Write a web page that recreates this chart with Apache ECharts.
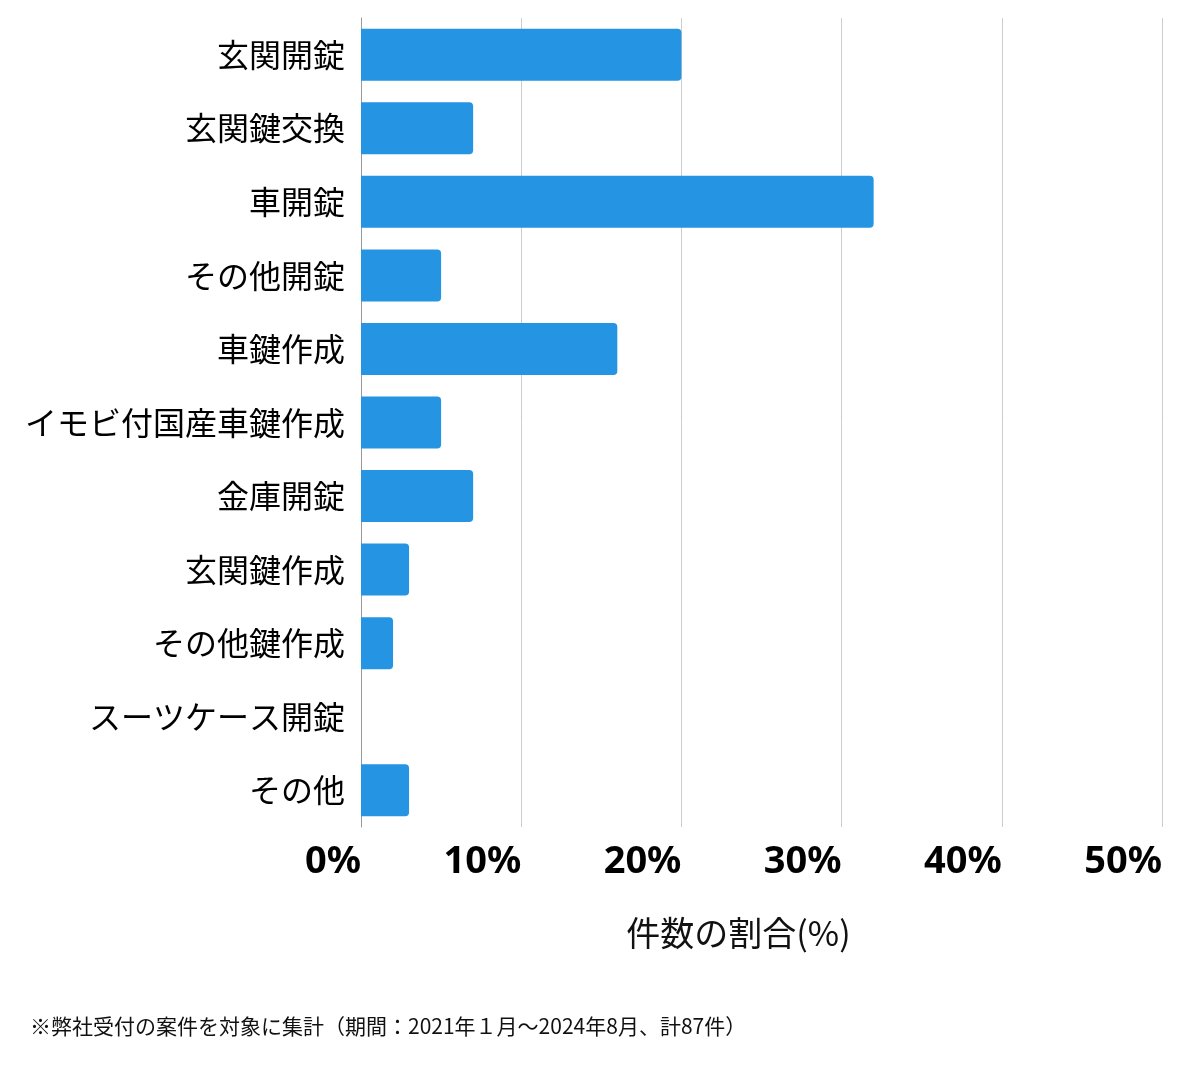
<!DOCTYPE html>
<html>
<head>
<meta charset="utf-8">
<script src="https://cdn.jsdelivr.net/npm/echarts@6/dist/echarts.min.js"></script>
<style>html,body{margin:0;padding:0;background:#fff}#c{width:1200px;height:1069px}</style>
</head>
<body>
<div id="c"></div>
<script>
const categories = ['玄関開錠','玄関鍵交換','車開錠','その他開錠','車鍵作成','イモビ付国産車鍵作成','金庫開錠','玄関鍵作成','その他鍵作成','スーツケース開錠','その他'];
const values = [20, 7, 32, 5, 16, 5, 7, 3, 2, 0, 3];
const xTicks = [0, 10, 20, 30, 40, 50];
const axisTitle = '件数の割合(%)';
const footnote = '※弊社受付の案件を対象に集計（期間：2021年１月～2024年8月、計87件）';

const chart = echarts.init(document.getElementById('c'));
chart.setOption({
  animation: false,
  textStyle: { fontFamily: '"Noto Sans CJK JP","Noto Sans",sans-serif' },
  title: {
    text: footnote, left: 30, top: 1016, padding: 0,
    textStyle: { fontSize: 21, fontWeight: 'normal', color: '#111', fontFamily: '"Noto Sans CJK JP",sans-serif' }
  },
  grid: { left: 361, right: 38, top: 18, bottom: 242, containLabel: false },
  xAxis: {
    type: 'value', min: xTicks[0], max: xTicks[xTicks.length-1], interval: 10,
    axisLine: { show: false }, axisTick: { show: false },
    splitLine: { lineStyle: { color: '#cccccc', width: 1 } },
    axisLabel: { formatter: '{value}%', align: 'right', margin: 16, fontSize: 38, fontWeight: 'bold', color: '#000', fontFamily: '"Noto Sans",sans-serif' },
    name: axisTitle, nameLocation: 'middle', nameGap: 89,
    nameTextStyle: { fontSize: 34, color: '#111', padding: [0, 46, 0, 0], fontFamily: '"Noto Sans CJK JP",sans-serif' }
  },
  yAxis: {
    type: 'category', data: categories, inverse: true,
    axisLine: { show: true, lineStyle: { color: '#999999', width: 1 } },
    axisTick: { show: false },
    axisLabel: { fontSize: 32, color: '#000', margin: 16, padding: [12, 0, 0, 0], fontFamily: '"Noto Sans CJK JP",sans-serif' }
  },
  series: [{
    type: 'bar', data: values, barWidth: 52,
    itemStyle: { color: '#2594e3', borderRadius: [0, 4, 4, 0] }
  }]
});
</script>
</body>
</html>
